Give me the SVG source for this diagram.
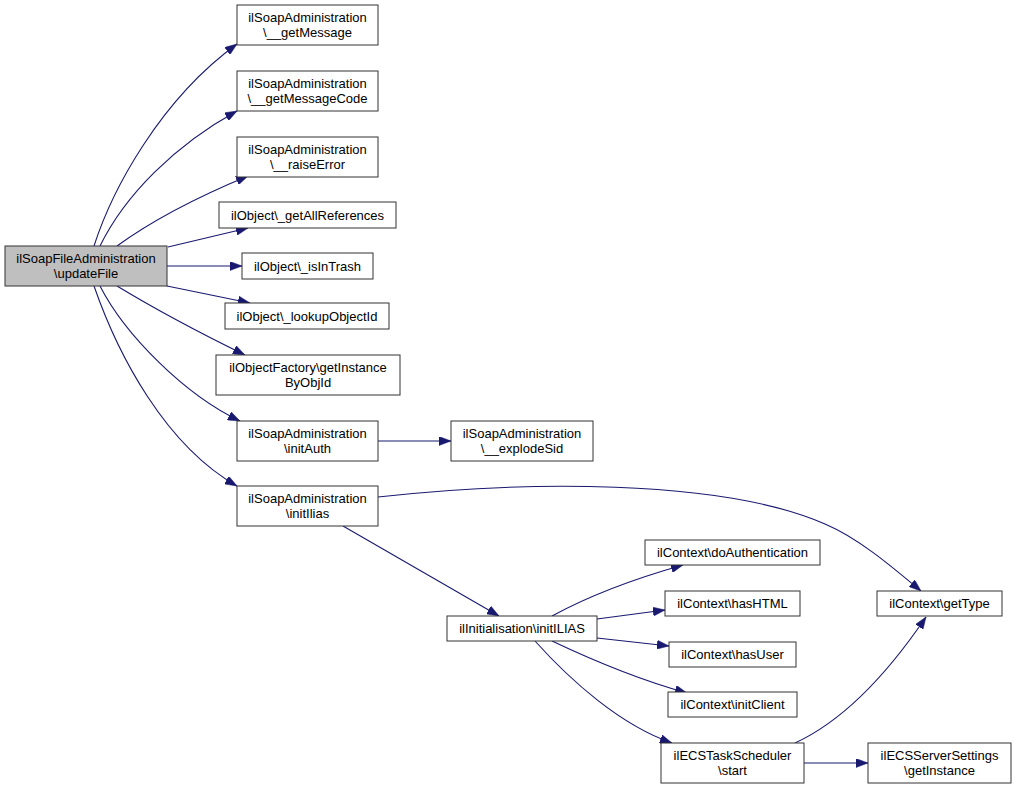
<svg xmlns="http://www.w3.org/2000/svg" width="1016" height="789" viewBox="0 0 1016 789">
<style>
.n rect{fill:#fff;stroke:#333;stroke-width:1}
.n.root rect{fill:#bfbfbf}
.n text{font-family:"Liberation Sans",Arial,sans-serif;font-size:13px;fill:#000;text-anchor:middle}
.e path{fill:none;stroke:#191970;stroke-width:1.1;marker-end:url(#ah)}
</style>
<defs>
<marker id="ah" viewBox="0 0 12 9" refX="12" refY="4.5" markerWidth="12" markerHeight="9" markerUnits="userSpaceOnUse" orient="auto">
<path d="M0,0 L12,4.5 L0,9 z" fill="#191970" stroke="#191970" stroke-width="0.5"/>
</marker>
</defs>
<rect width="1016" height="789" fill="#fff"/>
<g id="edges" class="e">
<path d="M94,246 C112,190 160,100 237,44"/>
<path d="M100,246 C125,195 175,145 237,111"/>
<path d="M117,246 C150,222 195,198 248,176"/>
<path d="M168,247 L248,228"/>
<path d="M167,266 L242,266"/>
<path d="M167,286 L250,303"/>
<path d="M117,286 C150,306 200,333 245,355"/>
<path d="M100,286 C125,335 185,395 240,421"/>
<path d="M94,286 C118,355 165,445 237,486"/>
<path d="M378,441 L451,441"/>
<path d="M378,497 C520,481 720,478 825,524 C858,538 890,565 921,591"/>
<path d="M343,526 L499,616"/>
<path d="M552,616 C585,598 630,580 683,565"/>
<path d="M597,619 L665,610"/>
<path d="M597,638 L669,646"/>
<path d="M552,641 C590,659 640,680 687,693"/>
<path d="M535,641 C570,680 620,725 672,743"/>
<path d="M795,743 C845,720 890,670 926,617"/>
<path d="M804,763 L868,763"/>
</g>
<g id="root" class="n root"><rect x="5" y="246" width="162" height="40"/><text x="86" y="263">ilSoapFileAdministration</text><text x="86" y="278">\updateFile</text></g>
<g id="getMessage" class="n"><rect x="237" y="5" width="141" height="40"/><text x="307.5" y="22">ilSoapAdministration</text><text x="307.5" y="37">\__getMessage</text></g>
<g id="getMessageCode" class="n"><rect x="237" y="71" width="141" height="40"/><text x="307.5" y="88">ilSoapAdministration</text><text x="307.5" y="103">\__getMessageCode</text></g>
<g id="raiseError" class="n"><rect x="237" y="137" width="141" height="40"/><text x="307.5" y="154">ilSoapAdministration</text><text x="307.5" y="169">\__raiseError</text></g>
<g id="getAllReferences" class="n"><rect x="219" y="202" width="177" height="26"/><text x="307.5" y="219.5">ilObject\_getAllReferences</text></g>
<g id="isInTrash" class="n"><rect x="242" y="253" width="131" height="26"/><text x="307.5" y="270.5">ilObject\_isInTrash</text></g>
<g id="lookupObjectId" class="n"><rect x="225" y="303" width="164" height="26"/><text x="307" y="320.5">ilObject\_lookupObjectId</text></g>
<g id="getInstanceByObjId" class="n"><rect x="216" y="355" width="184" height="40"/><text x="308" y="372">ilObjectFactory\getInstance</text><text x="308" y="387">ByObjId</text></g>
<g id="initAuth" class="n"><rect x="237" y="421" width="141" height="40"/><text x="307.5" y="438">ilSoapAdministration</text><text x="307.5" y="453">\initAuth</text></g>
<g id="initIlias" class="n"><rect x="237" y="486" width="141" height="40"/><text x="307.5" y="503">ilSoapAdministration</text><text x="307.5" y="518">\initIlias</text></g>
<g id="explodeSid" class="n"><rect x="451" y="421" width="142" height="40"/><text x="522" y="438">ilSoapAdministration</text><text x="522" y="453">\__explodeSid</text></g>
<g id="initILIAS" class="n"><rect x="447" y="616" width="150" height="25"/><text x="522" y="633">ilInitialisation\initILIAS</text></g>
<g id="doAuthentication" class="n"><rect x="645" y="540" width="175" height="25"/><text x="732.5" y="557">ilContext\doAuthentication</text></g>
<g id="hasHTML" class="n"><rect x="665" y="591" width="135" height="25"/><text x="732.5" y="608">ilContext\hasHTML</text></g>
<g id="hasUser" class="n"><rect x="669" y="642" width="127" height="25"/><text x="732.5" y="659">ilContext\hasUser</text></g>
<g id="initClient" class="n"><rect x="668" y="692" width="129" height="25"/><text x="732.5" y="709">ilContext\initClient</text></g>
<g id="start" class="n"><rect x="661" y="743" width="143" height="40"/><text x="732.5" y="760">ilECSTaskScheduler</text><text x="732.5" y="775">\start</text></g>
<g id="getType" class="n"><rect x="877" y="591" width="125" height="25"/><text x="939.5" y="608">ilContext\getType</text></g>
<g id="getInstance" class="n"><rect x="868" y="743" width="143" height="40"/><text x="939.5" y="760">ilECSServerSettings</text><text x="939.5" y="775">\getInstance</text></g>
</svg>
